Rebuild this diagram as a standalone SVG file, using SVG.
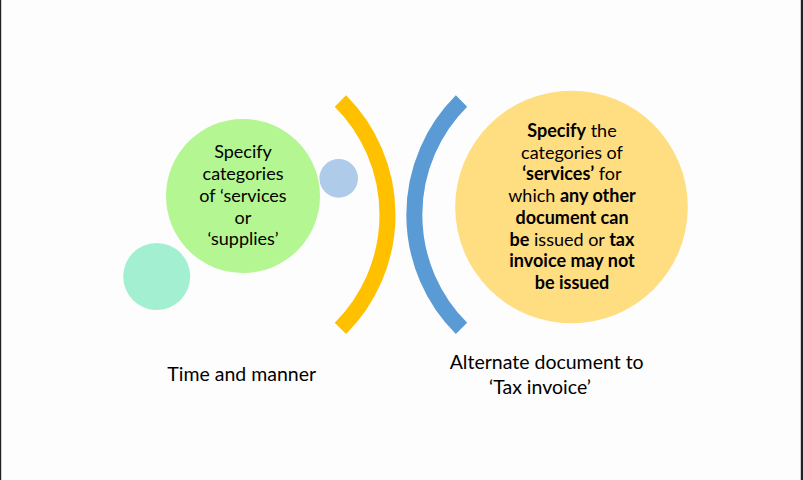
<svg xmlns="http://www.w3.org/2000/svg" width="803" height="480" viewBox="0 0 803 480">
<style>
  text { font-family: Lato, "Liberation Sans", sans-serif; fill: #000; text-anchor: middle; }
  .c { font-size: 18px; }
  .lbl { font-size: 19.5px; }
  .b { font-weight: bold; }
  .arc { fill: none; stroke-width: 16; stroke-linecap: butt; }
</style>
<rect x="0" y="0" width="803" height="480" fill="#fdfdfd"/>
<rect x="0" y="0" width="1.2" height="480" fill="#222"/>
<rect x="800.8" y="0" width="2.2" height="480" fill="#222"/>

<g id="teal-circle">
  <circle cx="156.7" cy="276.5" r="33.5" fill="#a2f0d1"/>
</g>
<g id="green-node">
  <circle cx="243" cy="196" r="77" fill="#b4f692"/>
  <text class="c" x="243" y="158">Specify</text>
  <text class="c" x="243" y="180">categories</text>
  <text class="c" x="243" y="202">of ‘services</text>
  <text class="c" x="243" y="223.5">or</text>
  <text class="c" x="243" y="245">‘supplies’</text>
</g>
<g id="blue-dot">
  <circle cx="338.7" cy="178.4" r="19.3" fill="#aecbea"/>
</g>

<g id="connectors">
  <path id="yellow-arc" class="arc" stroke="#ffc000" d="M340.4,101 A160.8,160.8 0 0 1 340.4,328.4"/>
  <path id="blue-arc" class="arc" stroke="#5b9bd5" d="M461.5,101 A160.6,160.6 0 0 0 461.5,328.4"/>
</g>

<g id="yellow-node">
  <circle cx="571.5" cy="207" r="116.3" fill="#ffdd81"/>
  <text class="c" x="572" y="136.7"><tspan class="b">Specify</tspan> the</text>
  <text class="c" x="572" y="158.5">categories of</text>
  <text class="c" x="572" y="180.3"><tspan class="b">‘services’</tspan> for</text>
  <text class="c" x="572" y="202"><tspan>which </tspan><tspan class="b">any other</tspan></text>
  <text class="c b" x="572" y="223.8">document can</text>
  <text class="c" x="572" y="245.6"><tspan class="b">be</tspan> issued or <tspan class="b">tax</tspan></text>
  <text class="c b" x="572" y="267.4">invoice may not</text>
  <text class="c b" x="572" y="289.2">be issued</text>
</g>

<g id="label-left">
  <text class="lbl" x="241.7" y="380.7">Time and manner</text>
</g>
<g id="label-right">
  <text class="lbl" x="546.7" y="369.3">Alternate document to</text>
  <text class="lbl" x="540" y="394">‘Tax invoice’</text>
</g>
</svg>
